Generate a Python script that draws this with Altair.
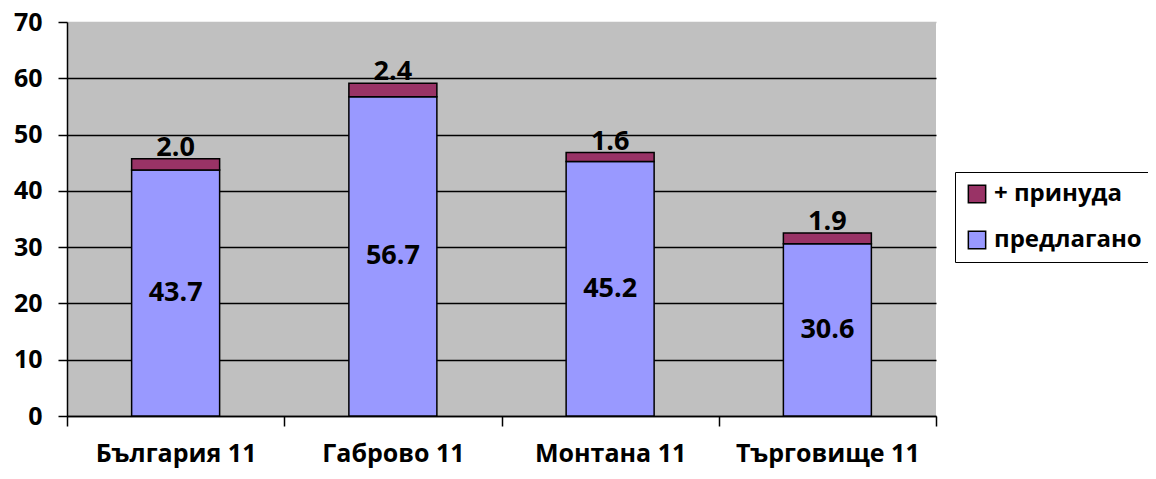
import altair as alt
import pandas as pd

categories = ["България 11", "Габрово 11", "Монтана 11", "Търговище 11"]
offered = [43.7, 56.7, 45.2, 30.6]
forced = [2.0, 2.4, 1.6, 1.9]
series = ["предлагано", "+ принуда"]
colors = ["#9999FF", "#993366"]

rows = []
for c, a, b in zip(categories, offered, forced):
    rows.append({"cat": c, "series": series[0], "val": a, "ord": 0, "lbl": f"{a:.1f}", "total": a + b})
    rows.append({"cat": c, "series": series[1], "val": b, "ord": 1, "lbl": f"{b:.1f}", "total": a + b})
df = pd.DataFrame(rows)

FONT = "Open Sans"
FS = 25
DFS = 27

x = alt.X("cat:N", sort=categories, title=None,
          scale=alt.Scale(paddingInner=0, paddingOuter=0),
          axis=alt.Axis(labelAngle=0, labelFont=FONT, labelFontSize=FS, labelFontWeight="bold",
                        labelColor="black", labelBaseline="alphabetic", labelPadding=35,
                        labelLimit=400, tickBand="extent", tickSize=10,
                        tickColor="black", tickWidth=1.5, domainColor="black", domainWidth=1.5,
                        grid=False))

bars = alt.Chart(df).mark_bar(size=88, stroke="black", strokeWidth=1.5).encode(
    x=x,
    y=alt.Y("val:Q", stack="zero", title=None,
            scale=alt.Scale(domain=[0, 70], nice=False),
            axis=alt.Axis(values=[0, 10, 20, 30, 40, 50, 60, 70], labelFont=FONT, labelFontSize=FS,
                          labelFontWeight="bold", labelColor="black", tickSize=9, labelPadding=16,
                          tickColor="black", tickWidth=1.5, domainColor="black", domainWidth=1.5,
                          grid=True,
                          gridColor={"condition": {"test": "datum.value == 70", "value": "#C0C0C0"}, "value": "black"},
                          gridWidth=1.5)),
    color=alt.Color("series:N", scale=alt.Scale(domain=series, range=colors),
                    legend=alt.Legend(title=None, orient="none", legendX=888, legendY=150,
                                      labelFont=FONT, labelFontSize=24, labelFontWeight="bold",
                                      labelColor="black", symbolType="square", symbolSize=300,
                                      symbolStrokeColor="black", symbolStrokeWidth=1.5,
                                      rowPadding=22, padding=10, strokeColor="black",
                                      fillColor="white", labelLimit=400,
                                      labelOffset=5, values=["+ принуда", "предлагано"])),
    order=alt.Order("ord:Q"),
)

low_df = df[df["ord"] == 0].copy()
low_df["mid"] = low_df["val"] / 2
low_text = alt.Chart(low_df).mark_text(font=FONT, fontSize=DFS, fontWeight="bold", color="black").encode(
    x=alt.X("cat:N", sort=categories), y=alt.Y("mid:Q"), text="lbl:N")

top_df = df[df["ord"] == 1]
top_text = alt.Chart(top_df).mark_text(font=FONT, fontSize=DFS, fontWeight="bold", color="black",
                                        baseline="alphabetic", dy=-3).encode(
    x=alt.X("cat:N", sort=categories), y=alt.Y("total:Q"), text="lbl:N")

chart = alt.layer(bars, low_text, top_text).properties(
    width=869, height=394,
    autosize=alt.AutoSizeParams(type="none"),
    padding={"left": 59, "top": 14, "right": 212, "bottom": 55},
).configure_view(fill="#C0C0C0", strokeWidth=0)

chart.save("out.html", embed_options={"renderer": "svg", "actions": False})
